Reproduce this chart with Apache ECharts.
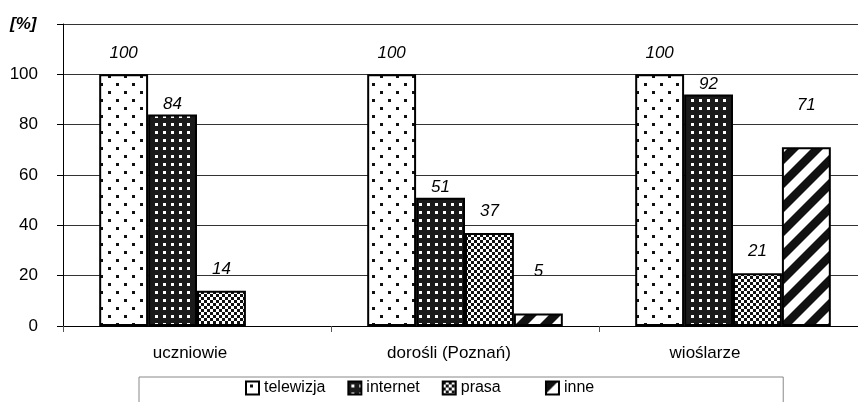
<!DOCTYPE html>
<html>
<head>
<meta charset="utf-8">
<script src="https://cdn.jsdelivr.net/npm/echarts@6/dist/echarts.min.js"></script>
<style>
html,body{margin:0;padding:0;background:#fff;}
#c{width:858px;height:402px;}
</style>
</head>
<body>
<div id="c"></div>
<script>
const categories = ['uczniowie', 'dorośli (Poznań)', 'wioślarze'];
const seriesNames = ['telewizja', 'internet', 'prasa', 'inne'];
const telewizja = [100, 100, 100];
const internet = [84, 51, 92];
const prasa = [14, 37, 21];
const inne = [null, 5, 71];
const yTicks = [0, 20, 40, 60, 80, 100, 120];

function tile(w, h, bg, fg, rects) {
  const c = document.createElement('canvas');
  c.width = w; c.height = h;
  const x = c.getContext('2d');
  x.fillStyle = bg; x.fillRect(0, 0, w, h);
  x.fillStyle = fg;
  rects.forEach(r => x.fillRect(r[0], r[1], r[2], r[3]));
  return c;
}
function stripes(p) {
  const c = document.createElement('canvas');
  c.width = p; c.height = p;
  const x = c.getContext('2d');
  x.fillStyle = '#fff'; x.fillRect(0, 0, p, p);
  x.fillStyle = '#111';
  for (let k = -2; k <= 2; k++) {
    const s = p * k;
    x.beginPath();
    x.moveTo(s, 0); x.lineTo(s + p / 2, 0);
    x.lineTo(s + p / 2 - p, p); x.lineTo(s - p, p);
    x.closePath(); x.fill();
  }
  return c;
}
const patterns = [
  {image: tile(16, 16, '#fff', '#111', [[4, 3, 3, 3], [12, 11, 3, 3]]), repeat: 'repeat'},
  {image: tile(8, 8, '#1a1a1a', '#fff', [[3, 3, 3, 3]]), repeat: 'repeat'},
  {image: tile(6, 6, '#fff', '#111', [[0, 0, 3, 3], [3, 3, 3, 3]]), repeat: 'repeat'},
  {image: stripes(24), repeat: 'repeat'}
];
const seriesData = [telewizja, internet, prasa, inne];
const labelDist = [13, 2, 13, 34];

const font = 'Liberation Sans, Arial, sans-serif';
const chart = echarts.init(document.getElementById('c'), null, {renderer: 'canvas'});
chart.setOption({
  animation: false,
  backgroundColor: '#fff',
  title: {
    text: '[%]', left: 10, top: 16, padding: 0,
    textStyle: {fontFamily: font, fontSize: 17, fontWeight: 'bold', fontStyle: 'italic', color: '#000'}
  },
  grid: {left: 63, top: 24, width: 804, bottom: 76, outerBoundsMode: 'none', containLabel: false},
  legend: {
    data: seriesNames,
    left: 139, top: 377,
    padding: [3, 189, 30, 106],
    borderColor: '#888', borderWidth: 1,
    itemWidth: 13, itemHeight: 13, itemGap: 22,
    icon: 'rect',
    formatter: n => (n === 'prasa' ? n + '\u00a0\u00a0\u00a0\u00a0\u00a0' : n),
    textStyle: {fontFamily: font, fontSize: 16, color: '#000'}
  },
  xAxis: {
    type: 'category',
    data: categories,
    axisLine: {lineStyle: {color: '#000', width: 1}},
    axisTick: {show: true, length: 6, lineStyle: {color: '#555'}},
    axisLabel: {
      margin: 19, fontFamily: font, fontSize: 17, color: '#000',
      formatter: (v, i) => '{c' + i + '|' + v + '}',
      rich: {
        c0: {fontFamily: font, fontSize: 17, color: '#000', padding: [0, 14, 0, 0]},
        c1: {fontFamily: font, fontSize: 17, color: '#000', padding: [0, 32, 0, 0]},
        c2: {fontFamily: font, fontSize: 17, color: '#000', padding: [0, 56, 0, 0]}
      }
    }
  },
  yAxis: {
    type: 'value',
    min: yTicks[0], max: yTicks[yTicks.length - 1], interval: yTicks[1] - yTicks[0],
    axisLine: {show: true, lineStyle: {color: '#000', width: 1}},
    axisTick: {show: true, length: 6, lineStyle: {color: '#000'}},
    splitLine: {show: true, lineStyle: {color: '#333', width: 1}},
    axisLabel: {
      margin: 25, fontFamily: font, fontSize: 17, color: '#000',
      formatter: v => (v === 120 ? '' : String(v))
    }
  },
  series: seriesNames.map((name, i) => ({
    name: name,
    type: 'bar',
    data: seriesData[i],
    barGap: '0%',
    barCategoryGap: '27%',
    itemStyle: {color: patterns[i], borderColor: '#000', borderWidth: 2},
    label: {
      show: true, position: 'top', distance: labelDist[i],
      fontFamily: font, fontSize: 17, fontStyle: 'italic', color: '#000',
      formatter: p => (p.value == null ? '' : String(p.value))
    }
  }))
});
</script>
</body>
</html>
